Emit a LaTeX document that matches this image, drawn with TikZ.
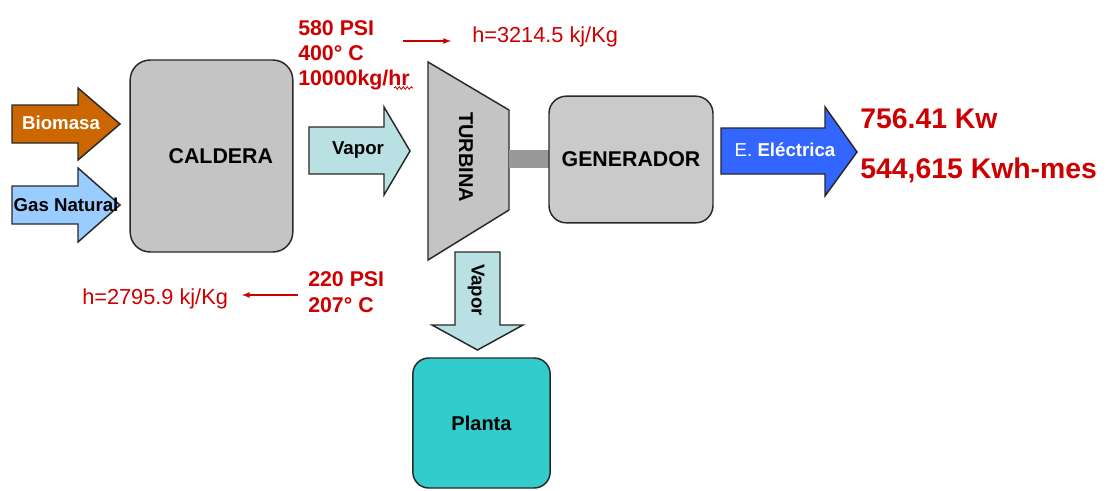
\documentclass[tikz,border=0pt]{standalone}
\usepackage{fontspec}
\setmainfont{Liberation Sans}
\usetikzlibrary{positioning, decorations.pathmorphing}

\definecolor{rojo}{RGB}{204,0,0}
\definecolor{borde}{RGB}{40,40,40}
\definecolor{grisclaro}{RGB}{196,196,196}
\definecolor{grisdos}{RGB}{202,202,202}
\definecolor{grisoscuro}{RGB}{153,153,153}
\definecolor{naranja}{RGB}{204,102,0}
\definecolor{celeste}{RGB}{153,204,255}
\definecolor{vapor}{RGB}{185,224,227}
\definecolor{azul}{RGB}{51,102,255}
\definecolor{turquesa}{RGB}{51,204,204}

\tikzset{
  caja/.style={draw=borde, line width=1.1pt, font=\bfseries\fontsize{16}{18}\selectfont},
  flecha/.style={draw=borde, line width=1.1pt, line join=miter},
  rotulo/.style={font=\bfseries\fontsize{14}{16}\selectfont, inner sep=0pt},
  dato/.style={text=rojo, font=\bfseries\fontsize{16}{18.75}\selectfont, align=left, inner sep=0pt},
  grande/.style={text=rojo, font=\bfseries\fontsize{21.3}{24}\selectfont, inner sep=0pt},
  entalpia/.style={text=rojo, font=\fontsize{16.3}{18}\selectfont, inner sep=0pt},
  guia/.style={draw=rojo, line width=1pt, -latex},
}

\begin{document}
\begin{tikzpicture}[x=0.75pt, y=-0.75pt]
  \useasboundingbox (0,0) rectangle (1111,490);

  % entradas de combustible
  \draw[flecha, fill=naranja] (12,105) -- (78,105) -- (78,88) -- (120,124)
    -- (78,160) -- (78,143) -- (12,143) -- cycle;
  \node[rotulo, text=white] (bio) at (61,123) {Biomasa};
  \draw[flecha, fill=celeste] (12,186) -- (78,186) -- (78,168) -- (120,205)
    -- (78,242) -- (78,224) -- (12,224) -- cycle;
  \node[rotulo] (gas) at (66,205) {Gas Natural};

  % caldera
  \node[caja, fill=grisclaro, rounded corners=15pt, minimum width=122pt, minimum height=144pt]
    (caldera) at (211.5,156) {\hspace*{14pt}CALDERA};

  % vapor a la turbina
  \draw[flecha, fill=vapor] (309,127) -- (384,127) -- (384,107) -- (410,151)
    -- (384,195) -- (384,174) -- (309,174) -- cycle;
  \node[rotulo] (vapin) at (358,150) {Vapor};

  % turbina y eje
  \draw[flecha, fill=grisclaro] (428,62) -- (509,110) -- (509,210) -- (428,260) -- cycle;
  \node[rotulo, font=\bfseries\fontsize{15}{17}\selectfont, rotate=-90] (turbina) at (466,157) {TURBINA};
  \node[fill=grisoscuro, minimum width=31pt, minimum height=13.5pt, inner sep=0pt]
    (eje) at (529.5,159) {};

  % generador
  \node[caja, fill=grisdos, rounded corners=13pt, minimum width=123pt, minimum height=95pt]
    (generador) at (631,159.5) {GENERADOR};

  % energia electrica
  \draw[flecha, fill=azul] (721,128) -- (825,128) -- (825,107) -- (857,152)
    -- (825,196) -- (825,174) -- (721,174) -- cycle;
  \node[rotulo, text=white] (elec) at (785,150) {\mdseries E. \bfseries El\'ectrica};
  \node[grande, anchor=base west] (kw) at (860,128) {756.41 Kw};
  \node[grande, anchor=base west] (kwh) at (860,178) {544,615 Kwh-mes};

  % vapor a la planta
  \draw[flecha, fill=vapor] (455,252) -- (500,252) -- (500,325) -- (523,325)
    -- (477.5,350) -- (432,325) -- (455,325) -- cycle;
  \node[rotulo, rotate=-90] (vapout) at (476,290) {Vapor};
  \node[caja, fill=turquesa, rounded corners=12pt, minimum width=103pt, minimum height=97.5pt,
    font=\bfseries\fontsize{15}{17}\selectfont] (planta) at (481.5,423) {Planta};

  % condiciones del vapor
  \node[dato, anchor=north west] (entrada) at (298,20) {580 PSI\\400\textdegree{} C\\10000kg/hr};
  \draw[rojo, line width=0.6pt, decorate, decoration={snake, amplitude=1pt, segment length=3pt}]
    (394,88) -- (413,88);
  \coordinate (e1) at (403,41);
  \coordinate (e2) at (451,41);
  \node[entalpia, anchor=base west] (hin) at (472,42) {h=3214.5 kj/Kg};
  \draw[guia] (e1) -- (e2);

  \node[dato, anchor=north west, font=\bfseries\fontsize{16}{19.5}\selectfont] (salida) at (308,271)
    {220 PSI\\207\textdegree{} C};
  \coordinate (s1) at (298,295);
  \coordinate (s2) at (242,295);
  \node[entalpia, anchor=base west] (hout) at (82,304) {h=2795.9 kj/Kg};
  \draw[guia] (s1) -- (s2);
\end{tikzpicture}
\end{document}
